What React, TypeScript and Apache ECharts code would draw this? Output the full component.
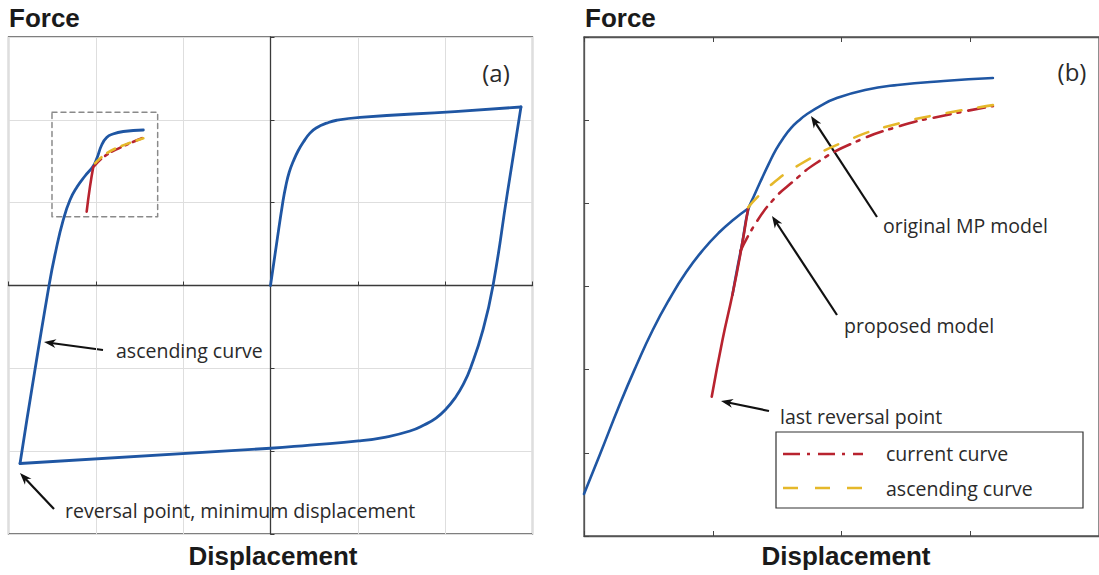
import React, { useEffect, useRef } from "react";
import * as echarts from "echarts";

// ---------- Panel (a): [displacement, force] ----------
const aLoopUp = [[0, 0], [0.069, 0.5], [0.14, 1.0], [0.175, 1.2], [0.215, 1.37], [0.261, 1.5], [0.318, 1.63], [0.375, 1.73], [0.452, 1.84], [0.529, 1.905], [0.643, 1.96], [0.758, 1.995], [1.025, 2.03], [2.11, 2.1], [2.868, 2.155]];
const aLoopDown = [[2.868, 2.155], [2.71, 1.1], [2.548, 0], [2.433, -0.537], [2.292, -0.992], [2.204, -1.201], [2.113, -1.358], [2.01, -1.491], [1.895, -1.6], [1.758, -1.684], [1.597, -1.757], [1.322, -1.829], [1.009, -1.877], [0.452, -1.926], [0, -1.965], [-2.868, -2.149]];
const aAscending = [[-2.868, -2.149], [-2.79, -1.624], [-2.536, 0], [-2.456, 0.429], [-2.373, 0.791], [-2.296, 1.032], [-2.216, 1.189], [-2.124, 1.322], [-2.029, 1.443], [-1.987, 1.539], [-1.933, 1.696], [-1.876, 1.787], [-1.804, 1.829], [-1.686, 1.859], [-1.456, 1.877]];
const aCurrentSolid = [[-2.105, 0.891], [-2.067, 1.193], [-2.029, 1.433]];
const aCurrentDashDot = [[-2.02, 1.44], [-1.9, 1.56], [-1.72, 1.665], [-1.456, 1.785]];
const aAscendingDashed = [[-2.01, 1.475], [-1.875, 1.596], [-1.723, 1.676], [-1.456, 1.777]];
const aZoomBox = [[-2.502, 2.091], [-1.292, 2.091], [-1.292, 0.831], [-2.502, 0.831], [-2.502, 2.091]];

// ---------- Panel (b): [displacement, force] ----------
const bAscending = [[0, 0.505], [0.122, 0.974], [0.282, 1.599], [0.405, 2.044], [0.534, 2.477], [0.664, 2.85], [0.794, 3.174], [0.924, 3.439], [1.053, 3.655], [1.168, 3.812], [1.275, 3.938]];
const bOriginalMP = [[1.153, 2.898], [1.191, 3.222], [1.229, 3.523], [1.275, 3.92], [1.321, 4.09], [1.382, 4.3], [1.435, 4.475], [1.489, 4.64], [1.55, 4.79], [1.611, 4.91], [1.672, 5.0], [1.725, 5.065], [1.84, 5.175], [1.954, 5.26], [2.183, 5.363], [2.435, 5.423], [2.794, 5.471], [3.176, 5.507]];
const bCurrentSolid = [[0.992, 1.675], [1.076, 2.361], [1.153, 2.904], [1.214, 3.386], [1.275, 3.94]];
const bCurrentDashDot = [[1.214, 3.422], [1.328, 3.747], [1.473, 4.048], [1.626, 4.265], [1.802, 4.482], [2.069, 4.711], [2.45, 4.928], [2.809, 5.06], [3.176, 5.169]];
const bAscendingDashed = [[1.275, 3.952], [1.42, 4.181], [1.679, 4.47], [2.069, 4.771], [2.45, 4.964], [2.809, 5.084], [3.176, 5.181]];

// ---------- texts ----------
const axisTitleY = "Force";
const axisTitleX = "Displacement";
const panelLabels = ["(a)", "(b)"];
const legendLabels = ["current curve", "ascending curve"];
const notes = ["ascending curve", "reversal point, minimum displacement", "original MP model", "proposed model", "last reversal point"];

const BLUE = "#1f56a3";
const RED = "#b8232f";
const YELLOW = "#e5b82a";
const DASHDOT = [17, 7, 3, 8];
const DASH = [15, 17];
const TXT = "#2a2a2a";
const NOTE_FONT = "'Open Sans', 'Noto Sans', sans-serif";
const NOTE_SIZE = 19.5;
const BOLD_FONT = "'Liberation Sans', Arial, sans-serif";

function arrow(tail: number[], tip: number[]) {
  const dx = tip[0] - tail[0];
  const dy = tip[1] - tail[1];
  const len = Math.sqrt(dx * dx + dy * dy);
  const ux = dx / len;
  const uy = dy / len;
  const nx = -uy;
  const ny = ux;
  const L = 12;
  const W = 4.5;
  return [
    {
      type: "line",
      shape: { x1: tail[0], y1: tail[1], x2: tip[0] - ux * L * 0.6, y2: tip[1] - uy * L * 0.6 },
      style: { stroke: "#111", lineWidth: 2.2 },
    },
    {
      type: "polygon",
      shape: {
        points: [
          [tip[0], tip[1]],
          [tip[0] - ux * L + nx * W, tip[1] - uy * L + ny * W],
          [tip[0] - ux * L * 0.7, tip[1] - uy * L * 0.7],
          [tip[0] - ux * L - nx * W, tip[1] - uy * L - ny * W],
        ],
      },
      style: { fill: "#111" },
    },
  ];
}

function text(x: number, y: number, t: string, size: number, opts: any = {}) {
  return {
    type: "text",
    x,
    y,
    z: opts.z || 5,
    style: {
      text: t,
      fill: opts.fill || TXT,
      fontSize: size,
      fontFamily: opts.family || NOTE_FONT,
      fontWeight: opts.weight || "normal",
      align: opts.align || "left",
      verticalAlign: "middle",
    },
  };
}

function lineSeries(data: number[][], color: string, dash: any, xi: number, yi: number, width = 2.6, smooth: any = 0.5) {
  return {
    type: "line",
    data,
    xAxisIndex: xi,
    yAxisIndex: yi,
    symbol: "none",
    showSymbol: false,
    smooth,
    silent: true,
    lineStyle: { color, width, type: dash, cap: "round", join: "round" },
    z: 3,
  };
}

export default function App() {
  const ref = useRef<HTMLDivElement>(null);

  useEffect(() => {
    if (!ref.current) return;
    const chart = echarts.init(ref.current, null, { renderer: "svg" });

    const frameAxis = {
      axisLabel: { show: false },
      axisTick: { show: true, inside: true, length: 5, lineStyle: { color: "#444", width: 1 } },
      axisLine: { show: true, onZero: false, lineStyle: { color: "#555", width: 1.3 } },
      splitLine: { show: false },
    };
    const centerAxis = {
      axisLabel: { show: false },
      axisLine: { show: true, onZero: true, lineStyle: { color: "#3a3a3a", width: 1.3 } },
      axisTick: { show: true, inside: true, length: 4, lineStyle: { color: "#3a3a3a" } },
      splitLine: { show: true, lineStyle: { color: "#dedede", width: 1 } },
    };

    const option: any = {
      animation: false,
      backgroundColor: "#fff",
      grid: [
        { left: 8.5, top: 37, width: 524, height: 497, show: true, borderColor: "#555", borderWidth: 1.3, backgroundColor: "transparent" },
        { left: 584, top: 37, width: 524, height: 499, show: true, borderColor: "#555", borderWidth: 1.3, backgroundColor: "transparent" },
      ],
      xAxis: [
        { type: "value", gridIndex: 0, min: -3, max: 3, interval: 1, ...centerAxis },
        { type: "value", gridIndex: 1, min: 0, max: 4, interval: 1, position: "bottom", ...frameAxis },
        { type: "value", gridIndex: 1, min: 0, max: 4, interval: 1, position: "top", ...frameAxis },
      ],
      yAxis: [
        { type: "value", gridIndex: 0, min: -3, max: 3, interval: 1, ...centerAxis },
        { type: "value", gridIndex: 1, min: 0, max: 6, interval: 1, position: "left", ...frameAxis },
      ],
      series: [
        lineSeries(aZoomBox, "#8a8a8a", [5, 4], 0, 0, 1.5, false),
        lineSeries(aLoopUp, BLUE, "solid", 0, 0, 2.8),
        lineSeries(aLoopDown, BLUE, "solid", 0, 0, 2.8),
        lineSeries(aAscending, BLUE, "solid", 0, 0, 2.8),
        lineSeries(aCurrentSolid, RED, "solid", 0, 0, 2.6),
        lineSeries(aCurrentDashDot, RED, [10, 5, 3, 5], 0, 0, 2.6),
        lineSeries(aAscendingDashed, YELLOW, [9, 7], 0, 0, 2.6),

        lineSeries(bAscending, BLUE, "solid", 1, 1, 2.6),
        lineSeries(bOriginalMP, BLUE, "solid", 1, 1, 2.6),
        lineSeries(bCurrentSolid, RED, "solid", 1, 1, 2.6),
        lineSeries(bCurrentDashDot, RED, DASHDOT, 1, 1, 2.6),
        lineSeries(bAscendingDashed, YELLOW, DASH, 1, 1, 2.6),
      ],
      graphic: [
        text(9, 18, axisTitleY, 26, { family: BOLD_FONT, weight: "bold", fill: "#1a1a1a" }),
        text(585, 18, axisTitleY, 26, { family: BOLD_FONT, weight: "bold", fill: "#1a1a1a" }),
        text(273, 556, axisTitleX, 26, { family: BOLD_FONT, weight: "bold", fill: "#1a1a1a", align: "center" }),
        text(846, 556, axisTitleX, 26, { family: BOLD_FONT, weight: "bold", fill: "#1a1a1a", align: "center" }),
        text(496, 72, panelLabels[0], 24, { align: "center" }),
        text(1072, 71, panelLabels[1], 24, { align: "center" }),

        ...arrow([103, 350], [44, 342]),
        text(116, 350, notes[0], NOTE_SIZE),
        ...arrow([54, 509], [20, 473]),
        text(65, 510, notes[1], NOTE_SIZE),
        ...arrow([877, 217], [811, 116]),
        text(883, 225, notes[2], NOTE_SIZE),
        ...arrow([837, 315], [772, 216]),
        text(844, 325, notes[3], NOTE_SIZE),
        ...arrow([769, 411], [721, 401]),
        text(780, 416, notes[4], NOTE_SIZE),

        {
          type: "rect",
          shape: { x: 776, y: 432, width: 307, height: 76 },
          style: { fill: "#fff", stroke: "#333", lineWidth: 1.2 },
          z: 10,
        },
        {
          type: "line",
          shape: { x1: 783, y1: 454, x2: 863, y2: 454 },
          style: { stroke: RED, lineWidth: 2.6, lineDash: DASHDOT },
          z: 11,
        },
        {
          type: "line",
          shape: { x1: 783, y1: 488, x2: 863, y2: 488 },
          style: { stroke: YELLOW, lineWidth: 2.6, lineDash: DASH },
          z: 11,
        },
        text(886, 453, legendLabels[0], NOTE_SIZE, { z: 11 }),
        text(886, 488, legendLabels[1], NOTE_SIZE, { z: 11 }),
      ],
    };

    chart.setOption(option);
    return () => chart.dispose();
  }, []);

  return (
    <div
      ref={ref}
      style={{ position: "fixed", left: 0, top: 0, width: 1099, height: 575, background: "#fff" }}
    />
  );
}
